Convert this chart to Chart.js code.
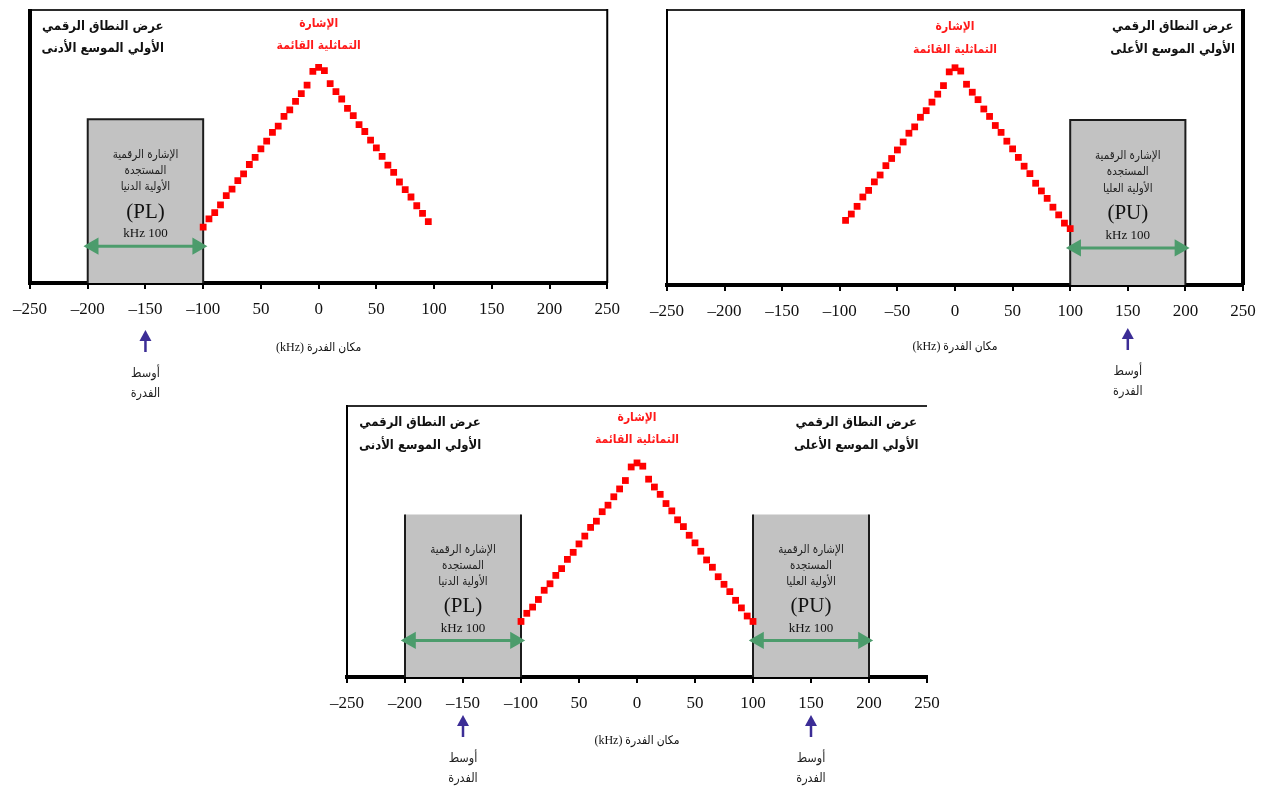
<!DOCTYPE html>
<html lang="ar">
<head>
<meta charset="utf-8">
<script src="https://cdn.jsdelivr.net/npm/chart.js@4.4.1/dist/chart.umd.min.js"></script>
<style>
  body { margin: 0; background: #fff; width: 1279px; height: 789px; position: relative; overflow: hidden; }
  .panel { position: absolute; }
</style>
</head>
<body>
<div class="panel" style="left:0;top:0;width:630px;height:400px"><canvas id="chartLower"></canvas></div>
<div class="panel" style="left:640px;top:0;width:639px;height:400px"><canvas id="chartUpper"></canvas></div>
<div class="panel" style="left:320px;top:396px;width:640px;height:393px"><canvas id="chartBoth"></canvas></div>
<script>
// analog signal (relative level)
var signalKHz = [-100, -95, -90, -85, -80, -75, -70, -65, -60, -55, -50, -45, -40, -35, -30, -25, -20, -15, -10, -5, 0,
                 5, 10, 15, 20, 25, 30, 35, 40, 45, 50, 55, 60, 65, 70, 75, 80, 85, 90, 95, 100];
var signalLevel = [20.5, 23.5, 25.8, 28.6, 32.0, 34.4, 37.5, 40.0, 43.4, 46.0, 49.1, 52.0, 55.2, 57.5, 61.0, 63.4, 66.5, 69.4, 72.5, 77.5, 79.0,
                   77.8, 73.0, 70.1, 67.4, 64.0, 61.3, 58.0, 55.5, 52.3, 49.5, 46.4, 43.2, 40.5, 37.0, 34.2, 31.5, 28.3, 25.5, 22.5, 20.5];

// digital sidebands (kHz) and their level
var lowerBand = [-200, -100];
var upperBand = [100, 200];
var bandLevel = 60;
var arrowLevel = 13.5;
var lowerCentre = -150;
var upperCentre = 150;

// tick labels as printed
var tickLabelsA = ['–250', '–200', '–150', '–100', '50', '0', '50', '100', '150', '200', '250'];
var tickLabelsB = ['–250', '–200', '–150', '–100', '–50', '0', '50', '100', '150', '200', '250'];

var serif = '"Liberation Serif", "DejaVu Sans Condensed", "DejaVu Sans"';
var arabic = '"DejaVu Sans Condensed", "DejaVu Sans"';

function signalPoints(from, to) {
    var pts = [];
    signalKHz.forEach(function(x, i) {
        if (x >= from && x <= to) pts.push({x: x, y: signalLevel[i]});
    });
    return pts;
}

function bandBox(band, topLine) {
    var ds = {
        type: 'line',
        data: [{x: band[0], y: 0}, {x: band[0], y: bandLevel}, {x: band[1], y: bandLevel}, {x: band[1], y: 0}],
        borderColor: '#1c1c1c',
        borderWidth: 2,
        backgroundColor: '#c2c2c2',
        fill: 'origin',
        pointRadius: 0,
        tension: 0,
        order: 3
    };
    if (!topLine) {
        ds.segment = {
            borderColor: function(ctx) { return ctx.p0DataIndex === 1 ? 'rgba(0,0,0,0)' : '#1c1c1c'; }
        };
    }
    return ds;
}

function bandArrow(band) {
    return {
        type: 'line',
        data: [{x: band[0] + 5, y: arrowLevel}, {x: band[1] - 5, y: arrowLevel}],
        borderColor: '#4c9c6c',
        borderWidth: 3,
        pointStyle: 'triangle',
        pointRadius: 7,
        pointRotation: [-90, 90],
        pointBackgroundColor: '#4c9c6c',
        pointBorderColor: '#4c9c6c',
        order: 2
    };
}

function text(c, str, x, y, font, color) {
    c.font = font;
    c.fillStyle = color;
    c.textAlign = 'center';
    c.textBaseline = 'middle';
    c.direction = 'rtl';
    c.fillText(str, x, y);
}

var notesPlugin = {
    id: 'notes',
    beforeDatasetsDraw: function(chart, args, o) {
        var a = chart.chartArea, c = chart.ctx;
        c.save();
        c.strokeStyle = '#2b2b2b';
        c.lineWidth = 2;
        c.beginPath(); c.moveTo(a.left, a.top); c.lineTo(a.right, a.top); c.stroke();
        c.strokeStyle = '#000';
        c.lineWidth = o.leftWidth;
        c.beginPath(); c.moveTo(a.left, a.top - 1); c.lineTo(a.left, a.bottom); c.stroke();
        if (o.rightWidth) {
            c.lineWidth = o.rightWidth;
            c.beginPath(); c.moveTo(a.right, a.top - 1); c.lineTo(a.right, a.bottom); c.stroke();
        }
        c.restore();
    },
    afterDraw: function(chart, args, o) {
        var c = chart.ctx, xs = chart.scales.x, ys = chart.scales.y;
        var px = function(v) { return xs.getPixelForValue(v); };
        var py = function(v) { return ys.getPixelForValue(v); };
        c.save();
        // red label over the analog signal
        text(c, 'الإشارة', px(0), py(o.redY[0]), 'bold 12px ' + arabic, '#ff1a1a');
        text(c, 'التماثلية القائمة', px(0), py(o.redY[1]), 'bold 12px ' + arabic, '#ff1a1a');
        o.boxes.forEach(function(b) {
            var mid = (b.band[0] + b.band[1]) / 2;
            // corner title
            text(c, 'عرض النطاق الرقمي', px(b.titleX), py(o.titleY[0]), 'bold 13px ' + arabic, '#111');
            text(c, b.title2, px(b.titleX), py(o.titleY[1]), 'bold 13px ' + arabic, '#111');
            // text in the grey box
            text(c, 'الإشارة الرقمية', px(mid), py(47), '11.5px ' + arabic, '#222');
            text(c, 'المستجدة', px(mid), py(41), '11.5px ' + arabic, '#222');
            text(c, b.line3, px(mid), py(35), '11.5px ' + arabic, '#222');
            c.direction = 'ltr';
            c.font = '21px ' + serif;
            c.fillStyle = '#111';
            c.fillText(b.code, px(mid), py(26));
            c.font = '13px ' + serif;
            c.fillText('kHz 100', px(mid), py(18));
            // power centre arrow below the axis
            var ax = px(b.centre), base = xs.top;
            c.strokeStyle = '#3c2d96';
            c.fillStyle = '#3c2d96';
            c.lineWidth = 2.5;
            c.beginPath(); c.moveTo(ax, base + o.arrowTip + 8); c.lineTo(ax, base + o.arrowTip + 22); c.stroke();
            c.beginPath();
            c.moveTo(ax, base + o.arrowTip);
            c.lineTo(ax - 6, base + o.arrowTip + 11);
            c.lineTo(ax + 6, base + o.arrowTip + 11);
            c.closePath(); c.fill();
            text(c, 'أوسط', ax, base + o.arrowTip + 44, '12.5px ' + arabic, '#222');
            text(c, 'الفدرة', ax, base + o.arrowTip + 64, '12.5px ' + arabic, '#222');
        });
        // axis title
        text(c, 'مكان الفدرة (kHz)', px(0), xs.top + o.axisTitle, '12px ' + serif, '#111');
        c.restore();
    }
};

function makeChart(id, cfg) {
    var datasets = [{
        type: 'scatter',
        data: cfg.signal,
        pointStyle: 'rect',
        pointRadius: 4.8,
        backgroundColor: '#ff0000',
        borderColor: '#ff0000',
        borderWidth: 0,
        order: 1
    }];
    cfg.notes.boxes.forEach(function(b) {
        datasets.push(bandBox(b.band, cfg.boxTop));
        datasets.push(bandArrow(b.band));
    });
    return new Chart(document.getElementById(id).getContext('2d'), {
        type: 'scatter',
        data: { datasets: datasets },
        plugins: [notesPlugin],
        options: {
            responsive: true,
            maintainAspectRatio: false,
            animation: false,
            layout: { padding: cfg.padding },
            plugins: {
                legend: { display: false },
                tooltip: { enabled: false },
                notes: cfg.notes
            },
            scales: {
                x: {
                    type: 'linear',
                    min: -250,
                    max: 250,
                    ticks: {
                        stepSize: 50,
                        autoSkip: false,
                        maxRotation: 0,
                        padding: 10,
                        color: '#111',
                        font: { family: serif, size: 17 },
                        callback: function(v, i) { return cfg.labels[i]; }
                    },
                    grid: { drawOnChartArea: false, tickLength: 6, color: '#000', lineWidth: 2 },
                    border: { color: '#000', width: 4 },
                    afterFit: function(s) { s.height = 40; }
                },
                y: { display: false, min: 0, max: 100 }
            }
        }
    });
}

var lowerBox = { band: lowerBand, centre: lowerCentre, titleX: -187, title2: 'الأولي الموسع الأدنى', line3: 'الأولية الدنيا', code: '(PL)' };
var upperBox = { band: upperBand, centre: upperCentre, titleX: 189, title2: 'الأولي الموسع الأعلى', line3: 'الأولية العليا', code: '(PU)' };

makeChart('chartLower', {
    signal: signalPoints(-100, 95),
    labels: tickLabelsA,
    boxTop: true,
    padding: { left: 30, right: 22, top: 3, bottom: 77 },
    notes: { boxes: [lowerBox], leftWidth: 4, rightWidth: 2, titleY: [94, 85.8], redY: [95, 87], arrowTip: 47, axisTitle: 65 }
});

makeChart('chartUpper', {
    signal: signalPoints(-95, 100),
    labels: tickLabelsB,
    boxTop: true,
    padding: { left: 22, right: 36, top: 3, bottom: 75 },
    notes: { boxes: [upperBox], leftWidth: 2, rightWidth: 4, titleY: [94, 85.6], redY: [94, 85.4], arrowTip: 43, axisTitle: 62 }
});

makeChart('chartBoth', {
    signal: signalPoints(-100, 100),
    labels: tickLabelsA,
    boxTop: false,
    padding: { left: 26, right: 33, top: 4, bottom: 72 },
    notes: { boxes: [lowerBox, upperBox], leftWidth: 2, rightWidth: 0, titleY: [94, 85.4], redY: [95.8, 87.4], arrowTip: 38, axisTitle: 64 }
});
</script>
</body>
</html>
